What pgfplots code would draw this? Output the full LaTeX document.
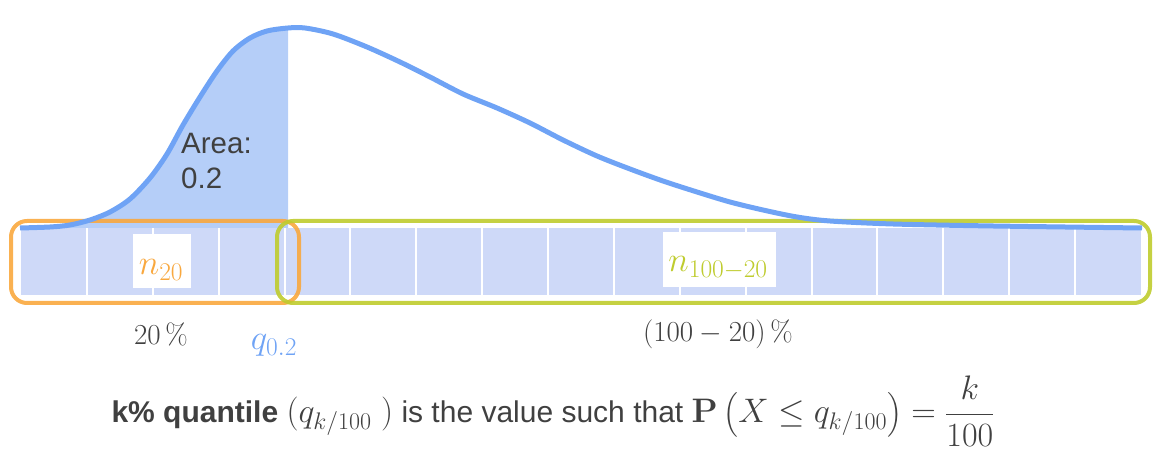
\RequirePackage{fix-cm}
\documentclass[border=0pt]{standalone}
\usepackage[no-math]{fontspec}
\usepackage{amsmath}
\usepackage{pgfplots}
\pgfplotsset{compat=1.18}
\usepgfplotslibrary{fillbetween}
\newfontfamily\arial{Liberation Sans}
\DeclareMathSizes{35}{35}{25.5}{19}
\DeclareMathSizes{34}{34}{24}{18}
\definecolor{curveblue}{RGB}{111,163,245}
\definecolor{shadeblue}{RGB}{181,206,248}
\definecolor{cellblue}{RGB}{206,217,248}
\definecolor{boxorange}{RGB}{249,168,62}
\definecolor{boxgreen}{RGB}{191,204,46}
\definecolor{txtgray}{RGB}{64,64,64}
\pgfplotstableread{
x y
20 228
50 227
70 225
90 220
110 212
130 199
150 178
167 154
183 125
200 97
217 71
233 51
250 38
267 31
288 28
305 28
333 34
367 47
400 62
430 77
463 94
497 108
530 123
563 140
597 156
630 169
663 181
697 192
730 202
763 210
797 217
830 221
893 224
993 226
1142 228
}\curvetable
\begin{document}
\begin{tikzpicture}
\begin{axis}[
  width=1162pt, height=462pt, scale only axis,
  xmin=0, xmax=1162, ymin=0, ymax=462, y dir=reverse,
  hide axis, clip=false]
\coordinate (BL) at (rel axis cs:0,0);
\coordinate (TR) at (rel axis cs:1,1);
% density curve (path for shading)
\addplot[draw=none, smooth, name path=curve, forget plot] table {\curvetable};
\addplot[draw=none, name path=base, forget plot] coordinates {(20,228) (1142,228)};
\addplot[fill=shadeblue, draw=none] fill between[of=curve and base, soft clip={domain=20:288}];
% cells
\fill[cellblue] (axis cs:21,228) rectangle (axis cs:1141,295);
\pgfplotsinvokeforeach{1,...,16}{
  \draw[white, line width=2pt] (axis cs:{21+#1*65.88},228) -- (axis cs:{21+#1*65.88},295);
}
% boxes
\draw[boxorange, opacity=0.9, line width=4pt, rounded corners=16pt] (axis cs:11,221) rectangle (axis cs:299,303);
\draw[boxgreen, opacity=0.9, line width=4pt, rounded corners=16pt] (axis cs:277,221) rectangle (axis cs:1150,303);
% curve on top
\addplot[curveblue, line width=5pt, smooth] table {\curvetable};
% labels
\node[anchor=north west, align=left, text=txtgray, font=\arial\fontsize{29.5}{35}\selectfont, inner sep=0pt] at (axis cs:181,133) {Area:\\0.2};
\node[fill=white, minimum width=58pt, minimum height=54pt, inner sep=0pt] at (axis cs:162,261) {};
\node[text=boxorange, font=\fontsize{35}{40}\selectfont, inner sep=0pt, anchor=base] at (axis cs:161,275) {$n_{20}$};
\node[fill=white, minimum width=113pt, minimum height=55pt, inner sep=0pt] at (axis cs:719.5,259.5) {};
\node[text=boxgreen, font=\fontsize{35}{40}\selectfont, inner sep=0pt, anchor=base] at (axis cs:718,272) {$n_{100-20}$};
\node[text=txtgray, font=\fontsize{29}{34}\selectfont, inner sep=0pt, anchor=base] at (axis cs:161,345) {$20\,\%$};
\node[text=curveblue, font=\fontsize{35}{40}\selectfont, inner sep=0pt, anchor=base] at (axis cs:274,350) {$q_{0.2}$};
\node[text=txtgray, font=\fontsize{29}{34}\selectfont, inner sep=0pt, anchor=base] at (axis cs:718,342) {$(100-20)\,\%$};
\node[text=txtgray, font=\arial\fontsize{30}{36}\selectfont, inner sep=0pt, anchor=base] at (axis cs:553,423)
  {\textbf{k\% quantile} {\fontsize{34}{40}\selectfont$(q_{k/100}$\ $)$} is the value such that {\fontsize{34}{40}\selectfont$\mathbf{P}\,\bigl(X \le q_{k/100}\bigr) = \dfrac{k}{100}$}};
\end{axis}
\pgfresetboundingbox
\path (BL) rectangle (TR);
\end{tikzpicture}
\end{document}
